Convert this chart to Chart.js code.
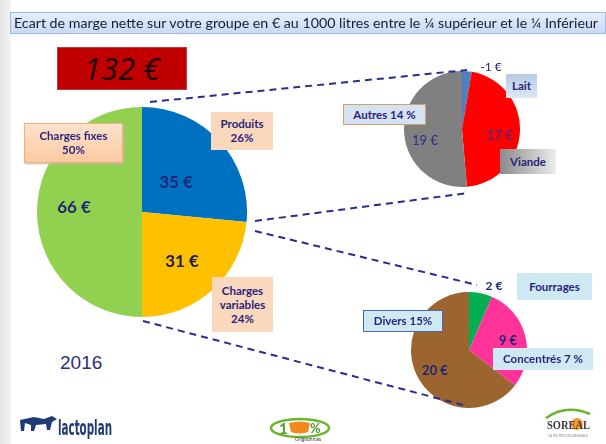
<!DOCTYPE html>
<html>
<head>
<meta charset="utf-8">
<script src="https://cdn.jsdelivr.net/npm/chart.js@4/dist/chart.umd.min.js"></script>
<style>
html, body { margin: 0; padding: 0; }
body { width: 606px; height: 444px; position: relative; overflow: hidden; background: #fff; font-family: Lato, "Open Sans", sans-serif; }
.strip { position: absolute; left: 0; top: 0; width: 11px; height: 444px; background: linear-gradient(to right, #e4e4e4, #f4f4f4); }
.titlebar { position: absolute; left: 10px; top: 12px; width: 596px; height: 22px; box-sizing: border-box;
  background: linear-gradient(#e6eefa, #c8daf3); border: 1px solid #9db8de; }
.total { position: absolute; left: 57px; top: 47px; width: 130px; height: 43px; background: #c00000;
  border: 1px solid #b04040; box-sizing: border-box; color: #1a0505; font-style: italic; font-size: 31px;
  font-family: "Open Sans", sans-serif; text-align: center; line-height: 40px; }
canvas.pie { position: absolute; }
.box { position: absolute; box-sizing: border-box; font-weight: bold; color: #29257c; font-size: 11.5px;
  text-align: center; line-height: 14px; display: flex; align-items: center; justify-content: center; }
.peach { background: #f9d8bd; }
.peach-b { background: linear-gradient(#fde2cc, #fbc9a2); border: 1px solid #f2b07c; box-shadow: 1px 1px 2px #c9b6a6; }
.blue { background: linear-gradient(#b7cbe5, #dde7f3); }
.blue-b { background: #d6e1f1; border: 1px solid #d0a46c; }
.grey { background: linear-gradient(to right, #8a8a8a, #ededed); }
.aqua { background: #cfe9f2; }
.aqua-b { background: #cfe9f2; border: 1px solid #4b69b0; }
.val { position: absolute; transform: translate(-50%, -50%); white-space: nowrap; color: #1f2678; font-weight: bold; }
.year { position: absolute; left: 60px; top: 352px; font-family: "Liberation Sans", sans-serif; font-size: 19px; color: #2b2f80; }
svg.over { position: absolute; left: 0; top: 0; }
</style>
</head>
<body>
<div class="strip"></div>
<div class="titlebar"></div>
<div class="total" id="total"></div>

<canvas class="pie" id="pieMain"></canvas>
<canvas class="pie" id="pieProduits"></canvas>
<canvas class="pie" id="pieVariables"></canvas>

<!-- étiquettes du grand camembert -->
<div class="box peach-b" style="left:24px;top:123px;width:99px;height:40px;" id="lblFixes"></div>
<div class="box peach" style="left:211px;top:112px;width:62px;height:38px;" id="lblProduits"></div>
<div class="box peach" style="left:212px;top:277px;width:61px;height:55px;" id="lblVariables"></div>
<div class="val" style="left:176px;top:181px;font-size:17px;" id="vMain0"></div>
<div class="val" style="left:182px;top:260px;font-size:17px;color:#1a1a5c;" id="vMain1"></div>
<div class="val" style="left:74px;top:206px;font-size:17px;" id="vMain2"></div>

<!-- produits -->
<div class="val" style="left:491px;top:66px;font-size:12px;font-weight:normal;" id="vProd0"></div>
<div class="val" style="left:500px;top:135px;font-size:13px;font-weight:normal;color:#3b2a8c;" id="vProd1"></div>
<div class="val" style="left:425px;top:140px;font-size:13px;font-weight:normal;color:#2b2b82;" id="vProd2"></div>
<div class="box blue" style="left:506px;top:74px;width:31px;height:24px;" id="lblLait"></div>
<div class="box grey" style="left:500px;top:149px;width:56px;height:25px;" id="lblViande"></div>
<div class="box blue-b" style="left:343px;top:104px;width:83px;height:21px;" id="lblAutres"></div>

<!-- charges variables -->
<div class="val" style="left:494px;top:285px;font-size:12px;" id="vVar0"></div>
<div class="val" style="left:508px;top:340px;font-size:13px;" id="vVar1"></div>
<div class="val" style="left:435px;top:370px;font-size:13px;" id="vVar2"></div>
<div class="box aqua" style="left:517px;top:273px;width:75px;height:27px;" id="lblFourrages"></div>
<div class="box aqua" style="left:493px;top:348px;width:100px;height:22px;" id="lblConcentres"></div>
<div class="box aqua-b" style="left:363px;top:310px;width:80px;height:22px;" id="lblDivers"></div>

<div class="year" id="year"></div>

<svg class="over" width="606" height="444" xmlns="http://www.w3.org/2000/svg">
  <text id="title" x="14" y="28" font-family="Lato, 'Open Sans', sans-serif" font-size="13.5" fill="#141c38"
        textLength="584" lengthAdjust="spacingAndGlyphs"></text>
  <g stroke="#2a2c8e" stroke-width="2" stroke-dasharray="7 5" fill="none">
    <line x1="150" y1="102" x2="467" y2="70"/>
    <line x1="255" y1="221" x2="468" y2="193"/>
    <line x1="255" y1="231" x2="477" y2="285"/>
    <line x1="143" y1="321" x2="463" y2="405"/>
  </g>
  <!-- logos -->
  <g fill="#1f3b73">
    <path d="M20 420 L34 417 L44 419 L52 416 L57 419 L52 422 L50 430 L47 430 L46 424 L36 425 L34 431 L31 431 L31 425 L25 423 L24 431 L21 431 Z"/>
    <text x="58" y="435" font-family="'Liberation Sans Narrow', 'DejaVu Sans Condensed', sans-serif" font-weight="bold" font-size="21" textLength="54" lengthAdjust="spacingAndGlyphs">lactoplan</text>
  </g>
  <g>
    <ellipse cx="300" cy="428" rx="29" ry="9" fill="none" stroke="#6ab42e" stroke-width="2.5"/>
    <text x="279" y="434" font-family="Lato, sans-serif" font-weight="bold" font-size="15" fill="#4e9a2a">1</text>
    <path d="M289 423 Q300 420 310 423 L308 432 Q299 435 291 432 Z" fill="#f08a1c"/>
    <text x="310" y="433" font-family="Lato, sans-serif" font-weight="bold" font-size="13" fill="#4e9a2a">%</text>
    <text x="295" y="441" font-family="Lato, sans-serif" font-size="5" fill="#3a3a3a">Grignonnais</text>
  </g>
  <g>
    <path d="M546 418 Q566 404 590 414" fill="none" stroke="#6ab42e" stroke-width="2.5"/>
    <circle cx="577" cy="424" r="6" fill="#f29a2e"/>
    <text x="547" y="429" font-family="'Liberation Serif', serif" font-weight="bold" font-size="12" fill="#3c3c3c" textLength="43" lengthAdjust="spacingAndGlyphs">SOREAL</text>
    <text x="548" y="437" font-family="Lato, sans-serif" font-size="3.5" fill="#8a8a8a">LA NUTRITION ANIMALE</text>
  </g>
</svg>

<script>
const titleText = 'Ecart de marge nette sur votre groupe en € au 1000 litres  entre le ¼ supérieur et le ¼ Inférieur';
const totalMarge = 132;
const year = '2016';

const mainLabels = ['Produits', 'Charges variables', 'Charges fixes'];
const mainValues = [35, 31, 66];
const mainPercents = ['26%', '24%', '50%'];
const mainColors = ['#0070c0', '#ffc000', '#92d050'];

const produitsLabels = ['Lait', 'Viande', 'Autres'];
const produitsValues = [-1, 17, 19];
const produitsColors = ['#4f81bd', '#ff0000', '#808080'];
const autresPercent = '14 %';

const variablesLabels = ['Fourrages', 'Concentrés', 'Divers'];
const variablesValues = [2, 9, 20];
const variablesColors = ['#00b050', '#ff3399', '#9c6530'];
const variablesPercents = ['', '7 %', '15%'];

const euro = (v) => v + ' €';

// Camembert sans bordure ni décalage au survol : le rayon remplit le canevas.
function makePie(id, cx, cy, r, labels, values, colors) {
    const c = document.getElementById(id);
    const size = 2 * r;
    c.width = size; c.height = size;
    c.style.width = size + 'px'; c.style.height = size + 'px';
    c.style.left = (cx - r) + 'px'; c.style.top = (cy - r) + 'px';
    return new Chart(c, {
        type: 'pie',
        data: {
            labels,
            datasets: [{
                data: values.map(Math.abs),
                backgroundColor: colors,
                borderWidth: 0,
                hoverOffset: 0,
                offset: 0,
            }],
        },
        options: {
            responsive: false,
            animation: false,
            events: [],
            layout: { padding: 0 },
            plugins: { legend: { display: false }, tooltip: { enabled: false } },
        },
    });
}

makePie('pieMain', 142, 212, 105, mainLabels, mainValues, mainColors);
makePie('pieProduits', 462, 129, 58, produitsLabels, produitsValues, produitsColors);
makePie('pieVariables', 469, 350, 58, variablesLabels, variablesValues, variablesColors);

document.getElementById('title').textContent = titleText;
document.getElementById('total').textContent = euro(totalMarge);
document.getElementById('year').textContent = year;

const setHtml = (id, html) => { document.getElementById(id).innerHTML = html; };
setHtml('lblProduits', mainLabels[0] + '<br>' + mainPercents[0]);
setHtml('lblVariables', 'Charges<br>variables<br>' + mainPercents[1]);
setHtml('lblFixes', mainLabels[2] + '<br>' + mainPercents[2]);
setHtml('lblLait', produitsLabels[0]);
setHtml('lblViande', produitsLabels[1]);
setHtml('lblAutres', produitsLabels[2] + ' ' + autresPercent);
setHtml('lblFourrages', variablesLabels[0]);
setHtml('lblConcentres', variablesLabels[1] + ' ' + variablesPercents[1]);
setHtml('lblDivers', variablesLabels[2] + ' ' + variablesPercents[2]);

mainValues.forEach((v, i) => { document.getElementById('vMain' + i).textContent = euro(v); });
produitsValues.forEach((v, i) => { document.getElementById('vProd' + i).textContent = euro(v); });
variablesValues.forEach((v, i) => { document.getElementById('vVar' + i).textContent = euro(v); });
</script>
</body>
</html>
